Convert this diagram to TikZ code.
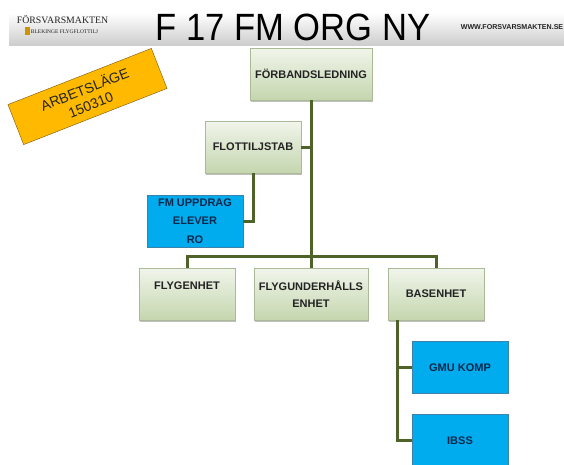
\documentclass[tikz,border=0pt]{standalone}
\usepackage{fontspec}
\setmainfont{Liberation Sans}
\newfontfamily\serifname{Liberation Serif}
\usetikzlibrary{shadows}
\definecolor{boxtop}{RGB}{241, 245, 235}
\definecolor{boxbottom}{RGB}{196, 214, 174}
\definecolor{boxline}{RGB}{170, 185, 150}
\definecolor{unitblue}{RGB}{0, 172, 238}
\definecolor{unitline}{RGB}{60, 130, 170}
\definecolor{notegold}{RGB}{255, 186, 0}
\definecolor{noteline}{RGB}{120, 85, 10}
\definecolor{branchgreen}{RGB}{79, 98, 40}
\definecolor{headgray}{RGB}{205, 205, 205}
\definecolor{textdark}{RGB}{35, 35, 35}
\definecolor{textnavy}{RGB}{10, 40, 75}
\tikzset{
  orgbox/.style   = {rectangle, draw=boxline, top color=boxtop, bottom color=boxbottom, minimum width=96pt, minimum height=52pt, inner sep=0pt, align=center, text=textdark, font=\fontsize{11}{17}\selectfont\bfseries, drop shadow={shadow xshift=0.8pt, shadow yshift=-1.6pt, opacity=0.5}},
  unitbox/.style  = {rectangle, draw=unitline, fill=unitblue, minimum width=96pt, minimum height=52pt, inner sep=0pt, align=center, text=textnavy, font=\fontsize{11}{18.5}\selectfont\bfseries},
  branch/.style   = {draw=branchgreen, line width=3pt},
}
\begin{document}
\begin{tikzpicture}[x=1pt, y=-1pt]
\useasboundingbox (0,0) rectangle (564,464);

% ================= Header =================
\node (header) [rectangle, top color=white, bottom color=headgray, minimum width=555pt, minimum height=32pt, inner sep=0pt] at (286.5, 29) {};
\node (title) [font=\fontsize{38}{40}\selectfont, inner sep=0pt, xscale=0.91] at (293, 27) {F 17 FM ORG NY};
\node (web) [font=\fontsize{7.1}{9}\selectfont\bfseries, text=textdark, inner sep=0pt] at (512, 27) {WWW.FORSVARSMAKTEN.SE};
\node (logo) [font=\fontsize{9.8}{10}\serifname\selectfont, text=textdark, inner sep=0pt] at (62.5, 20) {FÖRSVARSMAKTEN};
\node (flottilj) [font=\fontsize{5.5}{6}\serifname\selectfont, text=textdark, inner sep=0pt] at (64.5, 31.5) {BLEKINGE FLYGFLOTTILJ};
\fill [notegold!80!black] (24.5,27) rectangle (29.5,35);

% ================= Status note =================
\node (note) [rectangle, draw=noteline, fill=notegold, rotate=21.4, minimum width=154pt, minimum height=43pt, inner sep=0pt, align=center, text=textdark, font=\fontsize{14}{16.5}\selectfont] at (87.5, 96.5) {ARBETSLÄGE\\150310};

% ================= Command =================
\node (ledning) [orgbox, minimum width=122pt] at (311, 74) {FÖRBANDSLEDNING};
\node (stab) [orgbox] at (253, 147) {FLOTTILJSTAB};
\node (uppdrag) [unitbox] at (195, 221) {FM UPPDRAG\\ELEVER\\RO};

% ================= Units =================
\node (flygenhet) [orgbox] at (187, 294) {FLYGENHET\\\mbox{}};
\node (flygunderhall) [orgbox, minimum width=114pt] at (311, 294) {FLYGUNDERHÅLLS\\ENHET};
\node (basenhet) [orgbox] at (436, 294) {BASENHET};
\node (gmu) [unitbox] at (460, 367.5) {GMU KOMP};
\node (ibss) [unitbox] at (460, 440.5) {IBSS};

% ================= Branches =================
\draw [branch] (ledning.south) -- (flygunderhall.north);
\draw [branch] (stab.east) -- (stab.east -| ledning.south);
\draw [branch] (stab.south) |- (uppdrag.east);
\draw [branch] (flygenhet.north) -- ++(0,-11) -| (basenhet.north);
\draw [branch] ([xshift=-39pt]basenhet.south) |- (gmu.west);
\draw [branch] ([xshift=-39pt]basenhet.south) |- (ibss.west);

\end{tikzpicture}
\end{document}
